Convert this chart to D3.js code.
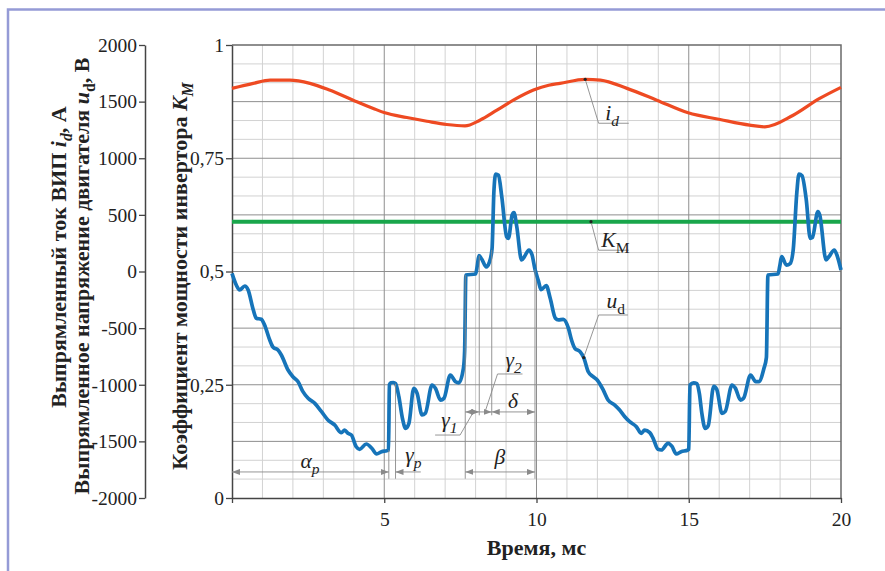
<!DOCTYPE html>
<html>
<head>
<meta charset="utf-8">
<script src="https://cdn.jsdelivr.net/npm/d3@7"></script>
<style>
  html, body { margin: 0; padding: 0; background: #fff; }
  svg { display: block; }
</style>
</head>
<body>
<svg id="chart" width="885" height="571"></svg>
<script>
// ---- data ----
// rectified current i_d, A
const idTime = [0, 0.7, 1.25, 1.9, 2.56, 3.2, 3.98, 4.64, 5.02, 5.74, 6.4, 7.05, 7.65,
  8.14, 8.7, 9.24, 9.9, 10.4, 10.77, 11.6, 12.1, 12.97, 13.95, 14.98, 16.03, 17.0, 17.5,
  18.43, 19.3, 20];
const idAmps = [1617, 1661, 1690, 1690, 1661, 1602, 1513, 1440, 1401, 1360, 1327, 1298, 1286,
  1336, 1425, 1513, 1602, 1645, 1661, 1697, 1690, 1617, 1513, 1401, 1342, 1292, 1277,
  1380, 1528, 1626];

// rectified motor voltage u_d, V
const udTime = [0, 0.14, 0.25, 0.42, 0.53, 0.7, 0.8, 0.96, 1.07, 1.24, 1.35, 1.51, 1.62, 1.84,
  2.0, 2.17, 2.33, 2.5, 2.72, 2.94, 3.15, 3.37, 3.59, 3.7, 3.81, 3.92, 4.08, 4.19, 4.41, 4.59,
  4.75, 4.91, 5.08, 5.14, 5.17, 5.22, 5.3, 5.37, 5.48, 5.6, 5.7, 5.81, 5.97, 6.08, 6.24, 6.35,
  6.57, 6.68, 6.85, 6.96, 7.17, 7.34, 7.45, 7.6, 7.64, 7.68, 8.0, 8.06, 8.11, 8.2, 8.35, 8.45,
  8.54, 8.6, 8.66, 8.75, 8.86, 9.02, 9.08, 9.2, 9.26, 9.35, 9.51, 9.6, 9.75, 9.85, 9.95,
  10.06, 10.15, 10.32, 10.45, 10.62, 10.72, 10.88, 11.05, 11.15, 11.26, 11.43, 11.55, 11.7,
  11.86, 12.0, 12.19, 12.35, 12.57, 12.73, 12.9, 13.06, 13.28, 13.44, 13.55, 13.72, 13.83,
  13.99, 14.1, 14.32, 14.45, 14.59, 14.75, 14.97, 15.0, 15.04, 15.16, 15.27, 15.35, 15.43,
  15.54, 15.64, 15.82, 15.92, 16.09, 16.2, 16.42, 16.53, 16.7, 16.8, 17.03, 17.2, 17.3,
  17.47, 17.55, 17.6, 17.93, 17.99, 18.05, 18.21, 18.33, 18.43, 18.55, 18.62, 18.72, 18.86,
  18.99, 19.06, 19.24, 19.3, 19.51, 19.6, 19.78, 19.86, 20];
const udVolts = [-16, -119, -163, -128, -163, -340, -413, -422, -472, -605, -669, -693, -737, -870,
  -929, -973, -1061, -1120, -1164, -1238, -1311, -1355, -1423, -1400, -1429, -1444, -1547, -1570,
  -1523, -1561, -1611, -1591, -1582, -1576, -1000, -983, -980, -990, -1105, -1300, -1385, -1341,
  -1031, -1076, -1267, -1252, -1002, -1031, -1135, -1120, -915, -973, -983, -855, -700, -31, -22,
  60, 140, 110, 40, 80, 200, 700, 860, 850, 660, 307, 293, 500, 520, 400, 102, 130, 190, 150, 20,
  -80, -160, -125, -237, -413, -428, -422, -502, -605, -678, -708, -760, -885, -929, -960, -1046,
  -1135, -1179, -1223, -1282, -1326, -1370, -1429, -1400, -1423, -1473, -1570, -1576, -1517,
  -1545, -1611, -1591, -1576, -1570, -1002, -983, -990, -1080, -1252, -1385, -1360, -1014, -1040,
  -1252, -1235, -1002, -1030, -1135, -1120, -915, -973, -973, -855, -760, -31, -22, 50, 131, 57,
  70, 190, 700, 860, 845, 631, 293, 300, 528, 500, 102, 130, 190, 150, 13];

// inverter power factor K_M
const kmTime = [0, 20];
const kmValue = [0.61, 0.61];

// axis ticks
const voltTicks = [2000, 1500, 1000, 500, 0, -500, -1000, -1500, -2000];
const kmTicks = [0, 0.25, 0.5, 0.75, 1];
const timeTicks = [0, 5, 10, 15, 20];

// ---- layout ----
const svg = d3.select('#chart');
const serif = '"Liberation Serif", "Times New Roman", serif';
const x = d3.scaleLinear().domain([0, 20]).range([232, 841]);
const yV = d3.scaleLinear().domain([-2000, 2000]).range([498, 45]);
const yK = d3.scaleLinear().domain([0, 1]).range([498, 45]);

// page frame
svg.append('path')
  .attr('d', 'M8,571 L8,9.5 L885,9.5')
  .attr('fill', 'none').attr('stroke', '#959bd6').attr('stroke-width', 2.5);

// ---- grid ----
const grid = svg.append('g');
const minorV = d3.range(1, 20).filter(t => t % 5 !== 0);
const minorH = d3.range(-2000, 2001, 500 / 3).map(v => Math.round(v)).filter(v => Math.abs(v % 500) > 1);
grid.selectAll('.mv').data(minorV).join('line')
  .attr('x1', d => x(d)).attr('x2', d => x(d)).attr('y1', yV(-2000)).attr('y2', yV(2000))
  .attr('stroke', '#d2d2d2').attr('stroke-width', 1);
grid.selectAll('.mh').data(minorH).join('line')
  .attr('x1', x(0)).attr('x2', x(20)).attr('y1', d => yV(d)).attr('y2', d => yV(d))
  .attr('stroke', '#d2d2d2').attr('stroke-width', 1);
grid.selectAll('.Mv').data([5, 10, 15]).join('line')
  .attr('x1', d => x(d)).attr('x2', d => x(d)).attr('y1', yV(-2000)).attr('y2', yV(2000))
  .attr('stroke', '#8e8e8e').attr('stroke-width', 1);
grid.selectAll('.Mh').data(voltTicks.filter(v => v > -2000 && v < 2000)).join('line')
  .attr('x1', x(0)).attr('x2', x(20)).attr('y1', d => yV(d)).attr('y2', d => yV(d))
  .attr('stroke', '#8e8e8e').attr('stroke-width', 1);
// top and right frame of the plot
svg.append('path')
  .attr('d', `M${x(0)},${yV(2000)} L${x(20)},${yV(2000)} L${x(20)},${yV(-2000)}`)
  .attr('fill', 'none').attr('stroke', '#6a6a6a').attr('stroke-width', 1.5);

// ---- axes ----
function styleAxis(g, size) {
  g.select('.domain').attr('stroke', '#444').attr('stroke-width', 1.5);
  g.selectAll('.tick line').attr('stroke', '#444').attr('stroke-width', 1.3);
  g.selectAll('.tick text').attr('fill', '#222').attr('font-family', serif).attr('font-size', size);
}
const axV = svg.append('g').attr('transform', 'translate(145,0)')
  .call(d3.axisLeft(yV).tickValues(voltTicks).tickFormat(d => String(d)).tickSize(6).tickSizeOuter(0).tickPadding(2));
styleAxis(axV, 19.5);
const axK = svg.append('g').attr('transform', `translate(${x(0)},0)`)
  .call(d3.axisLeft(yK).tickValues(kmTicks).tickFormat(d => String(d).replace('.', ',')).tickSize(6).tickSizeOuter(0).tickPadding(2));
styleAxis(axK, 19.5);
const axT = svg.append('g').attr('transform', `translate(0,${yV(-2000)})`)
  .call(d3.axisBottom(x).tickValues(timeTicks).tickFormat(d => d === 0 ? '' : String(d)).tickSize(5).tickSizeOuter(0).tickPadding(9));
styleAxis(axT, 19.5);

// ---- rich text helper (italic / subscript parts) ----
function rich(sel, parts, size) {
  let shift = 0;
  parts.forEach(p => {
    const ts = sel.append('tspan').text(p.t);
    const target = p.sub ? size * 0.28 : 0;
    if (target !== shift) { ts.attr('dy', target - shift); shift = target; }
    if (p.sub) ts.attr('font-size', size * 0.72);
    if (p.it) ts.attr('font-style', 'italic');
  });
  return sel;
}

// axis titles
const titleSize = 22;
function vTitle(cx, cy, parts) {
  const t = svg.append('text')
    .attr('transform', `translate(${cx},${cy}) rotate(-90)`)
    .attr('text-anchor', 'middle')
    .attr('font-family', serif).attr('font-weight', 'bold')
    .attr('font-size', titleSize).attr('fill', '#222');
  rich(t, parts, titleSize);
}
vTitle(66, 257, [{ t: 'Выпрямленный ток ВИП ' }, { t: 'i', it: true }, { t: 'd', it: true, sub: true }, { t: ', А' }]);
vTitle(89, 276, [{ t: 'Выпрямленное напряжение двигателя ' }, { t: 'u', it: true }, { t: 'd', sub: true }, { t: ', В' }]);
vTitle(187, 276, [{ t: 'Коэффициент мощности инвертора ' }, { t: 'K', it: true }, { t: 'M', it: true, sub: true }]);
svg.append('text')
  .attr('x', (x(0) + x(20)) / 2).attr('y', 555)
  .attr('text-anchor', 'middle')
  .attr('font-family', serif).attr('font-weight', 'bold')
  .attr('font-size', titleSize).attr('fill', '#222')
  .text('Время, мс');

// ---- series ----
const lineV = d3.line().x(d => x(d[0])).y(d => yV(d[1])).curve(d3.curveMonotoneX);
const lineK = d3.line().x(d => x(d[0])).y(d => yK(d[1]));
svg.append('path').datum(d3.zip(kmTime, kmValue))
  .attr('d', lineK).attr('fill', 'none').attr('stroke', '#19a64b').attr('stroke-width', 4);
svg.append('path').datum(d3.zip(idTime, idAmps))
  .attr('d', lineV).attr('fill', 'none').attr('stroke', '#ee4a22').attr('stroke-width', 3.2)
  .attr('stroke-linejoin', 'round');
svg.append('path').datum(d3.zip(udTime, udVolts))
  .attr('d', lineV).attr('fill', 'none').attr('stroke', '#1674b9').attr('stroke-width', 3.7)
  .attr('stroke-linejoin', 'round');

// ---- dimension annotations ----
const annColor = '#8a8a8a';
const defs = svg.append('defs');
defs.append('marker').attr('id', 'arr')
  .attr('viewBox', '0 0 8 6').attr('refX', 8).attr('refY', 3)
  .attr('markerWidth', 8).attr('markerHeight', 6).attr('markerUnits', 'userSpaceOnUse')
  .attr('orient', 'auto-start-reverse')
  .append('path').attr('d', 'M0,0 L8,3 L0,6 Z').attr('fill', annColor);

const ann = svg.append('g').attr('stroke', annColor).attr('stroke-width', 0.9).attr('fill', 'none');
function seg(t1, v1, t2, v2, start, end) {
  const l = ann.append('line')
    .attr('x1', x(t1)).attr('y1', yV(v1)).attr('x2', x(t2)).attr('y2', yV(v2));
  if (start) l.attr('marker-start', 'url(#arr)');
  if (end) l.attr('marker-end', 'url(#arr)');
}
// extension lines
seg(5.15, -1576, 5.15, -1830);
seg(5.37, -990, 5.37, -1830);
seg(7.66, -31, 7.66, -1830);
seg(8.12, 140, 8.12, -1270);
seg(8.53, 190, 8.53, -1270);
seg(9.95, 20, 9.95, -1830);
// dimension lines
seg(0, -1770, 5.15, -1770, true, true);       // alpha_p
seg(6.2, -1770, 5.37, -1770, false, true);    // gamma_p
seg(7.66, -1770, 9.95, -1770, true, true);    // beta
seg(8.53, -1240, 9.95, -1240, true, true);    // delta
seg(7.66, -1240, 8.12, -1240, true, true);    // gamma_1
seg(8.12, -1240, 8.53, -1240, false, true);   // gamma_2
// leaders for gamma_1 and gamma_2
seg(6.67, -1444, 7.49, -1444);
seg(7.49, -1444, 7.93, -1240);
seg(9.54, -905, 8.72, -905);
seg(8.72, -905, 8.31, -1240);

// curve labels with leaders
function interp(ts, vs, t) {
  const i = d3.bisectLeft(ts, t);
  if (i <= 0) return vs[0];
  const f = (t - ts[i - 1]) / (ts[i] - ts[i - 1]);
  return vs[i - 1] + f * (vs[i] - vs[i - 1]);
}
function leader(px, py, qx, qy, ux) {
  ann.append('path').attr('d', `M${px},${py} L${qx},${qy} L${ux},${qy}`);
  svg.append('circle').attr('cx', px).attr('cy', py).attr('r', 1.6).attr('fill', '#222');
}
leader(x(11.6), yV(interp(idTime, idAmps, 11.6)), x(12.04), yV(1309), x(13.03));
leader(x(11.79), yK(0.61), x(12.04), yK(0.547), x(13.03));
leader(x(11.55), yV(interp(udTime, udVolts, 11.55)), x(12.04), yV(-384), x(13.0));

const labSize = 21.5;
function label(t, yPix, parts, anchor) {
  const el = svg.append('text')
    .attr('x', x(t)).attr('y', yPix)
    .attr('text-anchor', anchor || 'start')
    .attr('font-family', serif).attr('font-size', labSize).attr('fill', '#222');
  rich(el, parts, labSize);
}
label(12.26, yV(1338), [{ t: 'i', it: true }, { t: 'd', it: true, sub: true }]);
label(12.13, yK(0.5548), [{ t: 'K', it: true }, { t: 'M', sub: true }]);
label(12.3, yV(-325), [{ t: 'u', it: true }, { t: 'd', sub: true }]);
label(2.56, yV(-1731), [{ t: 'α', it: true }, { t: 'p', it: true, sub: true }], 'middle');
label(5.69, yV(-1682), [{ t: 'γ', it: true }, { t: 'p', it: true, sub: true }]);
label(8.8, yV(-1700), [{ t: 'β', it: true }], 'middle');
label(9.23, yV(-1205), [{ t: 'δ', it: true }], 'middle');
label(6.87, yV(-1373), [{ t: 'γ', it: true }, { t: '1', it: true, sub: true }]);
label(8.98, yV(-843), [{ t: 'γ', it: true }, { t: '2', it: true, sub: true }]);
</script>
</body>
</html>
